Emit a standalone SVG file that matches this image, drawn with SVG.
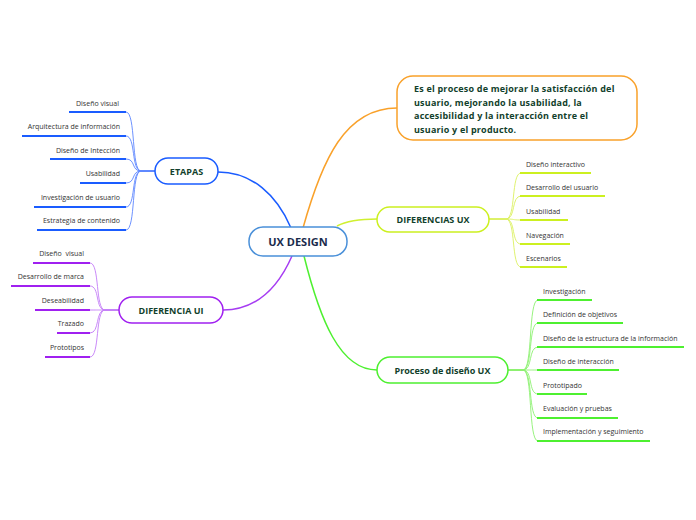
<svg xmlns="http://www.w3.org/2000/svg" width="696" height="520" viewBox="0 0 696 520">
<style>
text{font-family:"Open Sans","Noto Sans","Liberation Sans",sans-serif}
.leaf{font-size:7px;fill:#333}
.lr{text-anchor:end}
.nt{font-size:9px;font-weight:bold;fill:#123f2c;text-anchor:middle}
.node{fill:#fff;stroke-width:1.5}
.c{fill:none;stroke-width:1.5}
.lc{fill:none;stroke-width:0.9}
.ul{stroke-width:2}
</style>
<rect width="696" height="520" fill="#fff"/>
<g id="connectors">
<path class="c" stroke="#1a5cff" d="M291,228 C277,195 252,172 218,172"/>
<path class="c" stroke="#f9a12a" d="M303,228 C322,160 345,108 397,108"/>
<path class="c" stroke="#d0f030" d="M337,226 Q350,219 377,219"/>
<path class="c" stroke="#a63cf2" d="M292,256 C277,290 255,310 223,310"/>
<path class="c" stroke="#4ef030" d="M304,256 C320,320 340,370 377,370"/>
<g stroke="#5c86ff">
<path class="lc" d="M155,171 L141,171 C131,171 136,112 126,112"/>
<path class="lc" d="M155,171 L141,171 C131,171 136,136 126,136"/>
<path class="lc" d="M155,171 L141,171 C131,171 136,159 126,159"/>
<path class="lc" d="M155,171 L141,171 C131,171 136,183 126,183"/>
<path class="lc" d="M155,171 L141,171 C131,171 136,207 126,207"/>
<path class="lc" d="M155,171 L141,171 C131,171 136,230 126,230"/>
</g>
<g stroke="#1a5cff" class="ul">
<line x1="69" y1="112" x2="126" y2="112"/>
<line x1="22" y1="136" x2="126" y2="136"/>
<line x1="50" y1="159" x2="126" y2="159"/>
<line x1="80" y1="183" x2="126" y2="183"/>
<line x1="34" y1="207" x2="126" y2="207"/>
<line x1="37" y1="230" x2="126" y2="230"/>
</g>
<g stroke="#c37cf7">
<path class="lc" d="M119,310 L105,310 C95,310 100,263 90,263"/>
<path class="lc" d="M119,310 L105,310 C95,310 100,286 90,286"/>
<path class="lc" d="M119,310 L105,310 C95,310 100,310 90,310"/>
<path class="lc" d="M119,310 L105,310 C95,310 100,333 90,333"/>
<path class="lc" d="M119,310 L105,310 C95,310 100,357 90,357"/>
</g>
<g stroke="#a020f0" class="ul">
<line x1="33" y1="263" x2="90" y2="263"/>
<line x1="11" y1="286" x2="90" y2="286"/>
<line x1="35" y1="310" x2="90" y2="310"/>
<line x1="57" y1="333" x2="90" y2="333"/>
<line x1="45" y1="357" x2="90" y2="357"/>
</g>
<g stroke="#dbf060">
<path class="lc" d="M489,219 L506,219 C516,219 511,173 521,173"/>
<path class="lc" d="M489,219 L506,219 C516,219 511,196 521,196"/>
<path class="lc" d="M489,219 L506,219 C516,219 511,220 521,220"/>
<path class="lc" d="M489,219 L506,219 C516,219 511,244 521,244"/>
<path class="lc" d="M489,219 L506,219 C516,219 511,267 521,267"/>
</g>
<g stroke="#ccf020" class="ul">
<line x1="520" y1="173" x2="591" y2="173"/>
<line x1="520" y1="196" x2="605" y2="196"/>
<line x1="520" y1="220" x2="568" y2="220"/>
<line x1="520" y1="244" x2="570" y2="244"/>
<line x1="520" y1="267" x2="567" y2="267"/>
</g>
<g stroke="#8cf070">
<path class="lc" d="M508,370 L523,370 C533,370 528,300 538,300"/>
<path class="lc" d="M508,370 L523,370 C533,370 528,323 538,323"/>
<path class="lc" d="M508,370 L523,370 C533,370 528,347 538,347"/>
<path class="lc" d="M508,370 L523,370 C533,370 528,370 538,370"/>
<path class="lc" d="M508,370 L523,370 C533,370 528,394 538,394"/>
<path class="lc" d="M508,370 L523,370 C533,370 528,418 538,418"/>
<path class="lc" d="M508,370 L523,370 C533,370 528,441 538,441"/>
</g>
<g stroke="#4ef030" class="ul">
<line x1="537" y1="300" x2="592" y2="300"/>
<line x1="537" y1="323" x2="623" y2="323"/>
<line x1="537" y1="347" x2="684" y2="347"/>
<line x1="537" y1="370" x2="619" y2="370"/>
<line x1="537" y1="394" x2="587" y2="394"/>
<line x1="537" y1="418" x2="618" y2="418"/>
<line x1="537" y1="441" x2="650" y2="441"/>
</g>
</g>
<g id="central">
<rect class="node" x="249" y="227" width="98" height="29" rx="14" stroke="#4a90d9"/>
<text x="298" y="246" text-anchor="middle" font-size="11" font-weight="bold" fill="#1a2b4c">UX DESIGN</text>
</g>
<g id="definicion">
<rect class="node" x="397" y="76" width="240" height="64" rx="16" stroke="#f9a12a"/>
<g font-size="9" font-weight="bold" fill="#123f2c" letter-spacing="0.2">
<text x="414" y="92">Es el proceso de mejorar la satisfacción del</text>
<text x="414" y="105.5">usuario, mejorando la usabilidad, la</text>
<text x="414" y="119">accesibilidad y la interacción entre el</text>
<text x="414" y="132.5">usuario y el producto.</text>
</g>
</g>
<g id="etapas">
<rect class="node" x="155" y="158" width="63" height="26" rx="13" stroke="#1a5cff"/>
<text class="nt" x="186.5" y="174.5">ETAPAS</text>
<text class="leaf lr" x="119" y="106">Diseño visual</text>
<text class="leaf lr" x="120" y="129">Arquitectura de información</text>
<text class="leaf lr" x="120" y="153">Diseño de Intección</text>
<text class="leaf lr" x="120" y="176">Usabilidad</text>
<text class="leaf lr" x="120" y="200">Investigación de usuario</text>
<text class="leaf lr" x="120" y="223">Estrategia de contenido</text>
</g>
<g id="diferencia-ui">
<rect class="node" x="119" y="297" width="104" height="26" rx="13" stroke="#a020f0"/>
<text class="nt" x="171" y="313.5">DIFERENCIA UI</text>
<text class="leaf lr" x="84" y="256">Diseño&#160; visual</text>
<text class="leaf lr" x="84" y="279">Desarrollo de marca</text>
<text class="leaf lr" x="84" y="303">Deseabilidad</text>
<text class="leaf lr" x="84" y="326">Trazado</text>
<text class="leaf lr" x="84" y="350">Prototipos</text>
</g>
<g id="diferencias-ux">
<rect class="node" x="377" y="207" width="112" height="25" rx="12.5" stroke="#ccf020"/>
<text class="nt" x="433" y="222.5">DIFERENCIAS UX</text>
<text class="leaf" x="526" y="167">Diseño interactivo</text>
<text class="leaf" x="526" y="190">Desarrollo del usuario</text>
<text class="leaf" x="526" y="214">Usabilidad</text>
<text class="leaf" x="526" y="238">Navegación</text>
<text class="leaf" x="526" y="261">Escenarios</text>
</g>
<g id="proceso">
<rect class="node" x="377" y="357" width="131" height="26" rx="13" stroke="#4ef030"/>
<text class="nt" x="442.5" y="373.5">Proceso de diseño UX</text>
<text class="leaf" x="543" y="294">Investigación</text>
<text class="leaf" x="543" y="317">Definición de objetivos</text>
<text class="leaf" x="543" y="341">Diseño de la estructura de la información</text>
<text class="leaf" x="543" y="364">Diseño de interacción</text>
<text class="leaf" x="543" y="388">Prototipado</text>
<text class="leaf" x="543" y="411">Evaluación y pruebas</text>
<text class="leaf" x="543" y="434">Implementación y seguimiento</text>
</g>
</svg>
